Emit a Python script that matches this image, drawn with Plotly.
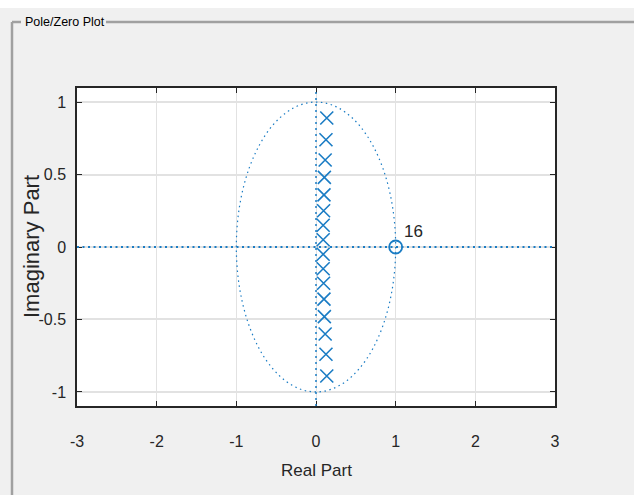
import plotly.graph_objects as go

# ---- data ----
pole_re = [0.135, 0.125, 0.115, 0.105, 0.100, 0.095, 0.090, 0.090,
           0.090, 0.090, 0.095, 0.100, 0.105, 0.115, 0.125, 0.135]
pole_im = [0.89, 0.74, 0.60, 0.48, 0.36, 0.25, 0.15, 0.05,
           -0.05, -0.15, -0.25, -0.36, -0.48, -0.60, -0.74, -0.89]
zero_re = [1.0]
zero_im = [0.0]
zero_multiplicity = ["16"]

x_ticks = [-3, -2, -1, 0, 1, 2, 3]
x_tick_text = ["-3", "-2", "-1", "0", "1", "2", "3"]
y_ticks = [-1, -0.5, 0, 0.5, 1]
y_tick_text = ["-1", "-0.5", "0", "0.5", "1"]

BLUE = "#1a7cc4"
FONT = "Liberation Sans, Arial, sans-serif"
TXT = "#262626"

W, H = 634, 495
L, R, T, B = 77, 555, 88, 406


def px(xp):
    return (xp - L) / (R - L)


def py(yp):
    return (B - yp) / (B - T)


fig = go.Figure()

fig.add_trace(go.Scatter(
    x=pole_re, y=pole_im, mode="markers",
    marker=dict(symbol="x-thin", size=13, line=dict(color=BLUE, width=1.6)),
    showlegend=False, hoverinfo="skip"))

fig.add_trace(go.Scatter(
    x=zero_re, y=zero_im, mode="markers",
    marker=dict(symbol="circle-open", size=13, color=BLUE, line=dict(color=BLUE, width=1.8)),
    showlegend=False, hoverinfo="skip"))

shapes = []
# background panel and group box
shapes.append(dict(type="rect", xref="paper", yref="paper", x0=px(0), x1=px(W), y0=py(8), y1=py(H),
                   fillcolor="#f0f0f0", line=dict(width=0), layer="below"))
box = dict(color="#a0a0a0", width=2.5)
shapes.append(dict(type="line", xref="paper", yref="paper", x0=px(12), x1=px(12), y0=py(22), y1=py(H + 5), line=box))
shapes.append(dict(type="line", xref="paper", yref="paper", x0=px(12), x1=px(21), y0=py(22), y1=py(22), line=box))
shapes.append(dict(type="line", xref="paper", yref="paper", x0=px(106), x1=px(W + 5), y0=py(22), y1=py(22), line=box))
# plot area white
shapes.append(dict(type="rect", xref="paper", yref="paper", x0=0, x1=1, y0=0, y1=1,
                   fillcolor="white", line=dict(width=0), layer="below"))
# unit circle
shapes.append(dict(type="circle", xref="x", yref="y", x0=-1, x1=1, y0=-1, y1=1,
                   line=dict(color=BLUE, width=1.2, dash="1.5px,3.5px"), layer="above"))
# zero axes (dotted)
shapes.append(dict(type="line", xref="x domain", yref="y", x0=0, x1=1, y0=0, y1=0,
                   line=dict(color=BLUE, width=1.8, dash="2px,3.5px"), layer="above"))
shapes.append(dict(type="line", xref="x", yref="y domain", x0=0, x1=0, y0=0, y1=1,
                   line=dict(color=BLUE, width=1.5, dash="2px,4px"), layer="above"))

annotations = [
    dict(text="Pole/Zero Plot", xref="paper", yref="paper", x=px(23), y=py(22),
         xanchor="left", yanchor="middle", showarrow=False,
         font=dict(family=FONT, size=12.5, color="#000000")),
    dict(text="Real Part", xref="paper", yref="paper", x=0.5, y=py(470),
         xanchor="center", yanchor="middle", showarrow=False,
         font=dict(family=FONT, size=17, color=TXT)),
    dict(text="Imaginary Part", xref="paper", yref="paper", x=px(31), y=py(247),
         xanchor="center", yanchor="middle", showarrow=False, textangle=-90,
         font=dict(family=FONT, size=22, color=TXT)),
    dict(text=zero_multiplicity[0], xref="x", yref="y", x=zero_re[0] + 0.08, y=zero_im[0] + 0.11,
         xanchor="left", yanchor="middle", showarrow=False,
         font=dict(family=FONT, size=17, color=TXT)),
]

axis_common = dict(showline=True, linecolor=TXT, mirror="ticks", ticks="inside",
                   ticklen=5, tickcolor=TXT, showgrid=True, gridcolor="#e2e2e2",
                   zeroline=False, tickfont=dict(family=FONT, size=16, color=TXT))

fig.update_layout(
    width=W, height=H,
    margin=dict(l=L, r=W - R, t=T, b=H - B, autoexpand=False),
    paper_bgcolor="white", plot_bgcolor="white",
    shapes=shapes, annotations=annotations,
    xaxis=dict(range=[-3, 3], tickvals=x_ticks, ticktext=x_tick_text, linewidth=2,
               gridwidth=1, ticklabelstandoff=20, **axis_common),
    yaxis=dict(range=[-1.097, 1.097], tickvals=y_ticks, ticktext=y_tick_text, linewidth=1.5,
               gridwidth=2, ticklabelstandoff=6, **axis_common),
)

fig.write_html("out.html")
